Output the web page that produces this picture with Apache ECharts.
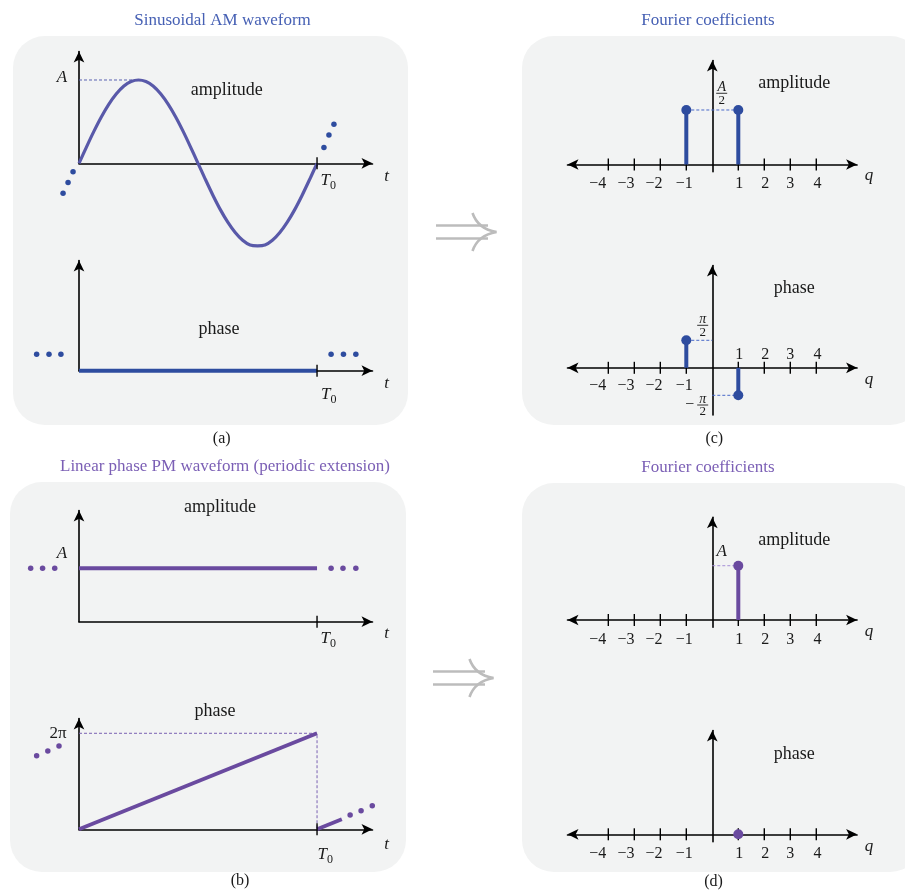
<!DOCTYPE html>
<html><head><meta charset="utf-8">
<script src="https://cdn.jsdelivr.net/npm/echarts@6/dist/echarts.min.js"></script>
<style>html,body{margin:0;padding:0;background:#fff}#c{width:905px;height:890px}</style>
</head><body><div id="c"></div>
<script>
// ================= DATA =================
// (a) Sinusoidal AM waveform: t in units of T0, amplitude in units of A
const amT = [0,0.03125,0.0625,0.09375,0.125,0.15625,0.1875,0.21875,0.25,0.28125,0.3125,0.34375,0.375,0.40625,0.4375,0.46875,
             0.5,0.53125,0.5625,0.59375,0.625,0.65625,0.6875,0.71875,0.75,0.78125,0.8125,0.84375,0.875,0.90625,0.9375,0.96875,1];
const amAmplitude = [0,0.195,0.383,0.556,0.707,0.831,0.924,0.981,1,0.981,0.924,0.831,0.707,0.556,0.383,0.195,
                     0,-0.195,-0.383,-0.556,-0.707,-0.831,-0.924,-0.981,-0.99,-0.981,-0.924,-0.831,-0.707,-0.556,-0.383,-0.195,0];
const amAmpDots = [[-0.025,-0.10],[-0.046,-0.23],[-0.067,-0.36],[1.029,0.19],[1.050,0.34],[1.071,0.47]];
const amPhaseT = [0,1];
const amPhase = [0,0];
const amPhaseDots = [[-0.178,0.15],[-0.126,0.15],[-0.076,0.15],[1.059,0.15],[1.111,0.15],[1.163,0.15]];
// (b) Linear phase PM waveform: amplitude in units of A, phase in units of 2π
const pmT = [0,1];
const pmAmplitude = [1,1];
const pmAmpDots = [[-0.203,1],[-0.153,1],[-0.102,1],[1.059,1],[1.109,1],[1.163,1]];
const pmPhase = [0,1];
const pmPhaseNextT = [1,1.104];
const pmPhaseNext = [0,0.104];
const pmPhaseDots = [[-0.178,0.767],[-0.131,0.816],[-0.084,0.868],[1.139,0.149],[1.185,0.194],[1.232,0.246]];
// (c) Fourier coefficients of the AM waveform
const qTicks = [-4,-3,-2,-1,1,2,3,4];
const qTickLabels = ['\u22124','\u22123','\u22122','\u22121','1','2','3','4'];
const cQ = [-1,1];
const cAmplitude = [1,1];   // units of A/2
const cPhase = [1,-1];      // units of π/2
// (d) Fourier coefficients of the PM waveform
const dQ = [1];
const dAmplitude = [1];     // units of A
const dPhase = [0];

// ================= STYLE / LAYOUT =================
const FONT = "'Liberation Serif','Times New Roman',serif";
const BLUE = '#2e4c9f', SINE = '#5959a9', PURPLE = '#6a4a9f';
const TXT = '#1a1a1a';
const AXW = 1.6;
const T_MAX = 1.233, Q_LIM = 5.57;
const grids = [
  {left:79, top:51.5, width:293.5, height:111.8},     // a amplitude
  {left:79, top:260.5, width:293.5, height:110.2},    // a phase
  {left:79, top:510.5, width:293.5, height:111.2},    // b amplitude
  {left:79, top:718.5, width:293.5, height:110.8},    // b phase
  {left:567.5, top:60.5, width:289.6, height:111.2},  // c amplitude
  {left:567.5, top:265.5, width:289.6, height:149.5}, // c phase
  {left:567.5, top:517.2, width:289.6, height:110.1}, // d amplitude
  {left:567.5, top:730.5, width:289.6, height:111.2}  // d phase
].map(g => Object.assign({outerBoundsMode:'none', containLabel:false}, g));
const yRanges = [[0,1.342],[0,1],[0,2.082],[0,1.154],[-0.132,1.908],[-1.716,3.72],[-0.134,1.893],[-0.269,3.775]];

const arrowLine = (sym, onZero) => ({show:true, onZero: onZero, symbol: sym, symbolSize:[8,11],
  lineStyle:{color:'#000', width:AXW}});
const hidden = {axisTick:{show:false}, axisLabel:{show:false}, splitLine:{show:false}};

const xAxes = [], yAxes = [];
for (let g = 0; g < 8; g++) {
  const isT = g < 4;
  xAxes.push(Object.assign({gridIndex:g, type:'value', min: isT ? 0 : -Q_LIM, max: isT ? T_MAX : Q_LIM,
    axisLine: arrowLine(isT ? ['none','arrow'] : ['arrow','arrow'], !isT)}, hidden));
  yAxes.push(Object.assign({gridIndex:g, type:'value', min:yRanges[g][0], max:yRanges[g][1],
    axisLine: arrowLine(['none','arrow'], !isT)}, hidden));
}

// ================= SERIES HELPERS =================
const base = g => ({xAxisIndex:g, yAxisIndex:g, silent:true, animation:false});
const line = (g, data, color, width, extra) => Object.assign(base(g), {type:'line', data, symbol:'none', showSymbol:false,
  clip:false, lineStyle:{color, width, opacity:1}, z:3}, extra || {});
const dashed = (g, data, color) => line(g, data, color, 1, {lineStyle:{color, width:1, type:[3,2]}, z:2});
const dots = (g, data, color, size) => Object.assign(base(g), {type:'scatter', data, symbolSize:size,
  itemStyle:{color, opacity:1}, clip:false, z:5});
const ticks = (g, xs) => Object.assign(base(g), {type:'scatter', data: xs.map(x => [x,0]), symbol:'rect',
  symbolSize:[1.4,12], itemStyle:{color:'#000', opacity:1}, clip:false, z:3});
const zip = (xs, ys) => xs.map((x,i) => [x, ys[i]]);
const stems = (g, qs, vs, color) => qs.map((q,i) => line(g, [[q,0],[q,vs[i]]], color, 4, {z:4}));

const series = [
  // (a) amplitude
  dashed(0, [[0, 1], [0.25, 1]], '#5a62b2'),
  line(0, zip(amT, amAmplitude), SINE, 3.2, {smooth:0.3}),
  dots(0, amAmpDots, BLUE, 5.5),
  ticks(0, [1]),
  // (a) phase
  line(1, zip(amPhaseT, amPhase), BLUE, 4),
  dots(1, amPhaseDots, BLUE, 5.5),
  ticks(1, [1]),
  // (b) amplitude
  line(2, zip(pmT, pmAmplitude), PURPLE, 4),
  dots(2, pmAmpDots, PURPLE, 5.5),
  ticks(2, [1]),
  // (b) phase
  dashed(3, [[0, pmPhase[1]], [pmT[1], pmPhase[1]], [pmT[1], 0]], '#7a60b2'),
  line(3, zip(pmT, pmPhase), PURPLE, 3.8),
  line(3, zip(pmPhaseNextT, pmPhaseNext), PURPLE, 3.8),
  dots(3, pmPhaseDots, PURPLE, 5.5),
  ticks(3, [1]),
  // (c) amplitude
  dashed(4, zip(cQ, cAmplitude), '#4868c8'),
  ticks(4, qTicks),
  ...stems(4, cQ, cAmplitude, BLUE),
  dots(4, zip(cQ, cAmplitude), BLUE, 10),
  // (c) phase
  dashed(5, [[cQ[0], cPhase[0]], [0, cPhase[0]]], '#4868c8'),
  dashed(5, [[0, cPhase[1]], [cQ[1], cPhase[1]]], '#4868c8'),
  ticks(5, qTicks),
  ...stems(5, cQ, cPhase, BLUE),
  dots(5, zip(cQ, cPhase), BLUE, 10),
  // (d) amplitude
  dashed(6, [[0, dAmplitude[0]], [dQ[0], dAmplitude[0]]], '#a58ed6'),
  ticks(6, qTicks),
  ...stems(6, dQ, dAmplitude, PURPLE),
  dots(6, zip(dQ, dAmplitude), PURPLE, 10),
  // (d) phase
  ticks(7, qTicks),
  dots(7, zip(dQ, dPhase), PURPLE, 10)
];

const chart = echarts.init(document.getElementById('c'), null, {renderer:'canvas', width:905, height:890});
chart.setOption({backgroundColor:'#ffffff', animation:false, grid: grids, xAxis: xAxes, yAxis: yAxes, series});

// ================= TEXT & DECORATION =================
const els = [];
const txt = (text, x, y, size, fill, italic, z) => ({type:'text', x, y, z: z || 10, silent:true,
  style:{text, fill: fill || TXT, fontSize:size, fontFamily:FONT, fontStyle: italic ? 'italic' : 'normal',
  align:'center', verticalAlign:'middle', textAlign:'center', textVerticalAlign:'middle'}});
// panels
[[13,36,395,389],[522,36,400,389],[10,482,396,390],[522,483,400,389]].forEach(r =>
  els.push({type:'rect', z:-10, silent:true, shape:{x:r[0], y:r[1], width:r[2], height:r[3], r:32}, style:{fill:'#f2f3f3'}}));
// titles & captions
els.push(txt('Sinusoidal AM waveform', 222.5, 20.5, 17, '#4660b4'));
els.push(txt('Fourier coefficients', 708, 20.5, 17, '#4660b4'));
els.push(txt('Linear phase PM waveform (periodic extension)', 225, 466.5, 17, '#7b5fb5'));
els.push(txt('Fourier coefficients', 708, 468, 17, '#7b5fb5'));
els.push(txt('(a)', 221.7, 439, 16));
els.push(txt('(c)', 714.3, 439, 16));
els.push(txt('(b)', 240, 881, 16));
els.push(txt('(d)', 713.5, 881.5, 16));
// plot names
[['amplitude',226.7,90],['phase',219,329],['amplitude',220,507.3],['phase',215,711.7],
 ['amplitude',794.3,83.3],['phase',794.3,288.3],['amplitude',794.3,540],['phase',794.3,754]]
  .forEach(p => els.push(txt(p[0], p[1], p[2], 18)));
// double arrows (implication signs)
[[0,0],[-3,446]].forEach(o => {
  const sx = o[0], sy = o[1], st = {stroke:'#bcbcbc', lineWidth:2.6, fill:null};
  els.push({type:'line', z:1, silent:true, shape:{x1:436+sx, y1:225.5+sy, x2:488+sx, y2:225.5+sy}, style:st});
  els.push({type:'line', z:1, silent:true, shape:{x1:436+sx, y1:238.5+sy, x2:488+sx, y2:238.5+sy}, style:st});
  els.push({type:'bezierCurve', z:1, silent:true, shape:{x1:472.5+sx, y1:213+sy, cpx1:478+sx, cpy1:229+sy, x2:496.5+sx, y2:232+sy}, style:st});
  els.push({type:'bezierCurve', z:1, silent:true, shape:{x1:472.5+sx, y1:251+sy, cpx1:478+sx, cpy1:235+sy, x2:496.5+sx, y2:232+sy}, style:st});
});
// q tick labels (placed through the axis scales)
const qLabelDx = [-10.5,-8.3,-6.3,-2,1,1,0,1.3];
[[4,18.8,18.8],[5,18.2,-13.5],[6,19.3,19.3],[7,19.7,19.7]].forEach(c => {
  qTicks.forEach((q,i) => {
    const p = chart.convertToPixel({gridIndex:c[0]}, [q,0]);
    els.push(txt(qTickLabels[i], p[0] + qLabelDx[i], p[1] + (q < 0 ? c[1] : c[2]), 16));
  });
});
// axis annotations anchored to data coordinates
const notes = [
  {g:0, at:[0,1], dx:-17, dy:-2, t:'A'},
  {g:0, at:[1,0], dx:8.3, dy:17.7, sub:true},
  {g:0, at:[T_MAX,0], dx:14, dy:13.5, t:'t'},
  {g:1, at:[1,0], dx:8.7, dy:24, sub:true},
  {g:1, at:[T_MAX,0], dx:14, dy:13.3, t:'t'},
  {g:2, at:[0,1], dx:-17, dy:-15, t:'A'},
  {g:2, at:[1,0], dx:8.3, dy:16.7, sub:true},
  {g:2, at:[T_MAX,0], dx:14, dy:12.3, t:'t'},
  {g:3, at:[0,1], dx:-21, dy:0, t:'2π', up:true},
  {g:3, at:[1,0], dx:5.3, dy:25.4, sub:true},
  {g:3, at:[T_MAX,0], dx:14, dy:15.7, t:'t'},
  {g:4, at:[0,1], dx:9.4, dy:-16.7, frac:'A'},
  {g:4, at:[Q_LIM,0], dx:12, dy:11, t:'q'},
  {g:5, at:[0,1], dx:-9.6, dy:-15, frac:'π'},
  {g:5, at:[0,-1], dx:-9.6, dy:9.7, frac:'π', minus:true},
  {g:5, at:[Q_LIM,0], dx:12, dy:12, t:'q'},
  {g:6, at:[0,1], dx:9.4, dy:-14, t:'A'},
  {g:6, at:[Q_LIM,0], dx:12, dy:11.7, t:'q'},
  {g:7, at:[Q_LIM,0], dx:12, dy:12.4, t:'q'}
];
notes.forEach(n => {
  const p = chart.convertToPixel({gridIndex:n.g}, n.at);
  const x = p[0] + n.dx, y = p[1] + n.dy;
  if (n.sub) {
    els.push(txt('T', x, y, 17, TXT, true));
    els.push(txt('0', x + 7.7, y + 5, 12, TXT, false));
  } else if (n.frac) {
    els.push(txt(n.frac, x, y - 6, 14, TXT, true));
    els.push({type:'line', z:10, silent:true, shape:{x1:x-5.5, y1:y, x2:x+5.5, y2:y}, style:{stroke:TXT, lineWidth:0.9}});
    els.push(txt('2', x, y + 7, 13, TXT, false));
    if (n.minus) els.push(txt('\u2212', x - 13, y, 16, TXT, false));
  } else {
    els.push(txt(n.t, x, y, 17, TXT, !n.up));
  }
});
chart.setOption({graphic:{elements: els}});
</script>
</body></html>
